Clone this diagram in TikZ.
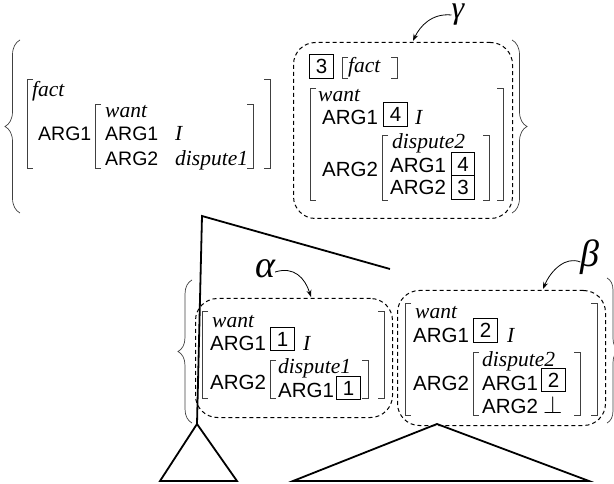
\documentclass[tikz,border=0pt]{standalone}
\usepackage{fontspec}
\setmainfont{Liberation Serif}
\setsansfont{Liberation Sans}
\usetikzlibrary{decorations.pathreplacing,arrows.meta}
\newcommand\LBr[3]{\draw[brk] (#1+6,#2) -- (#1,#2) -- (#1,#3) -- (#1+6,#3);}
\newcommand\RBr[3]{\draw[brk] (#1-6,#2) -- (#1,#2) -- (#1,#3) -- (#1-6,#3);}
\begin{document}
\begin{tikzpicture}[x=1pt,y=-1pt,
  feat/.style={font=\sffamily\fontsize{20.5}{22}\selectfont, inner sep=0pt, anchor=base west},
  featS/.style={feat, font=\sffamily\fontsize{19.5}{21}\selectfont},
  typ/.style={font=\itshape\fontsize{21.5}{23}\selectfont, inner sep=0pt, anchor=base west},
  tagbox/.style={draw, line width=0.8pt, font=\sffamily\fontsize{20.5}{22}\selectfont, inner sep=0pt, minimum width=23.5pt, minimum height=23.5pt},
  brk/.style={line width=0.8pt, black!75},
  dbox/.style={draw, dash pattern=on 4pt off 3pt, line width=1pt, rounded corners=22pt},
  tree/.style={line width=1.8pt},
  greek/.style={font=\itshape\fontsize{38}{42}\selectfont, inner sep=0pt, anchor=base, text height=17pt, text depth=7pt},
  larrow/.style={line width=0.8pt, -{Stealth[length=7pt,width=5pt]}},
  bracel/.style={line width=0.7pt, black!75, decorate, decoration={brace, amplitude=15pt}},
]
\useasboundingbox (0,0) rectangle (614,484);

% ---------- braces ----------
\draw[bracel] (20,213) -- (20,40);
\draw[bracel] (512,40) -- (512,213);
\draw[bracel, decoration={brace, amplitude=14pt}] (192,423) -- (192,280);
\draw[bracel, decoration={brace, amplitude=12pt}] (607,278) -- (607,423);

% ---------- tree ----------
\coordinate (top) at (202,216);
\coordinate (rend) at (390,269);
\coordinate (apexA) at (197,424);
\coordinate (bAl) at (160,481);
\coordinate (bAr) at (237,481);
\coordinate (apexB) at (437,424);
\coordinate (bBl) at (293,481);
\coordinate (bBr) at (589,481);
\draw[tree] (rend) -- (top) -- (apexA);
\draw[tree] (bAl) -- (apexA) -- (bAr) -- cycle;
\draw[tree] (bBl) -- (apexB) -- (bBr) -- cycle;

% ---------- top-left AVM ----------
\LBr{27}{79}{168} \RBr{270}{79}{168}
\LBr{95}{104}{168} \RBr{253}{104}{168}
\node[typ]   (tlfact) at (32,97) {fact};
\node[featS] (tlA1)   at (38,141) {ARG1};
\node[typ]   (tlwant) at (105,118) {want};
\node[featS] (tlB1)   at (105,141) {ARG1};
\node[typ]   (tlI)    at (175,141) {I};
\node[featS] (tlB2)   at (105,166) {ARG2};
\node[typ]   (tldis)  at (175,166) {dispute1};

% ---------- gamma ----------
\node[dbox, minimum width=219pt, minimum height=176pt, anchor=north west] (gbox) at (293,42) {};
\node[tagbox] (g3) at (321.5,66.5) {3};
\LBr{342}{57}{78} \RBr{397}{57}{78}
\node[typ] (gfact) at (348,73) {fact};
\LBr{310}{88}{200} \RBr{503}{88}{200}
\node[typ]  (gwant) at (318,102) {want};
\node[feat] (gA1)   at (322,125) {ARG1};
\node[tagbox] (g4a) at (395.5,114.5) {4};
\node[typ]  (gI)    at (415,125) {I};
\node[feat] (gA2)   at (322,177) {ARG2};
\LBr{382}{135}{200} \RBr{489}{135}{200}
\node[typ]  (gdis)  at (392,149) {dispute2};
\node[feat] (gB1)   at (390,173) {ARG1};
\node[tagbox] (g4b) at (463,164) {4};
\node[feat] (gB2)   at (390,195) {ARG2};
\node[tagbox] (g3b) at (463,187.5) {3};
\node[greek, font=\itshape\fontsize{32}{36}\selectfont, text height=14pt, text depth=6pt] (gamma) at (458,19) {γ};
\coordinate (gtip) at (413,41);
\draw[larrow] (gamma.west) .. controls (432,13) and (420,26) .. (gtip);

% ---------- alpha ----------
\node[dbox, minimum width=197pt, minimum height=119pt, anchor=north west] (abox) at (195,298) {};
\LBr{202}{311}{398} \RBr{384}{311}{398}
\node[typ]  (awant) at (212,327) {want};
\node[feat] (aA1)   at (210,350) {ARG1};
\node[tagbox] (a1a) at (282.5,339) {1};
\node[typ]  (aI)    at (303,350) {I};
\node[feat] (aA2)   at (210,389) {ARG2};
\LBr{270}{360}{398} \RBr{368}{360}{398}
\node[typ]  (adis)  at (278,373) {dispute1};
\node[feat] (aB1)   at (278,397) {ARG1};
\node[tagbox] (a1b) at (348.5,388) {1};
\node[greek] (alpha) at (265,277) {α};
\coordinate (atip) at (311,297);
\draw[larrow] (alpha.east) .. controls (294,266) and (305,278) .. (atip);

% ---------- beta ----------
\node[dbox, minimum width=208pt, minimum height=135pt, anchor=north west] (bbox) at (397,290) {};
\LBr{405}{303}{415} \RBr{597}{303}{415}
\node[typ]  (bwant) at (415,318) {want};
\node[feat] (bA1)   at (413,342) {ARG1};
\node[tagbox] (b2a) at (485.5,330.5) {2};
\node[typ]  (bI)    at (507,342) {I};
\node[feat] (bA2)   at (413,390) {ARG2};
\LBr{473}{352}{415} \RBr{580}{352}{415}
\node[typ]  (bdis)  at (482,366) {dispute2};
\node[feat] (bB1)   at (482,390) {ARG1};
\node[tagbox] (b2b) at (553.5,380) {2};
\node[feat] (bB2)   at (482,413) {ARG2};
\node[inner sep=0pt, anchor=base west, font=\fontsize{24}{26}\selectfont] (bperp) at (543,413) {$\perp$};
\node[greek] (beta) at (590,267) {β};
\coordinate (btip) at (543,289);
\draw[larrow] (beta.west) .. controls (566,256) and (551,270) .. (btip);
\end{tikzpicture}
\end{document}
